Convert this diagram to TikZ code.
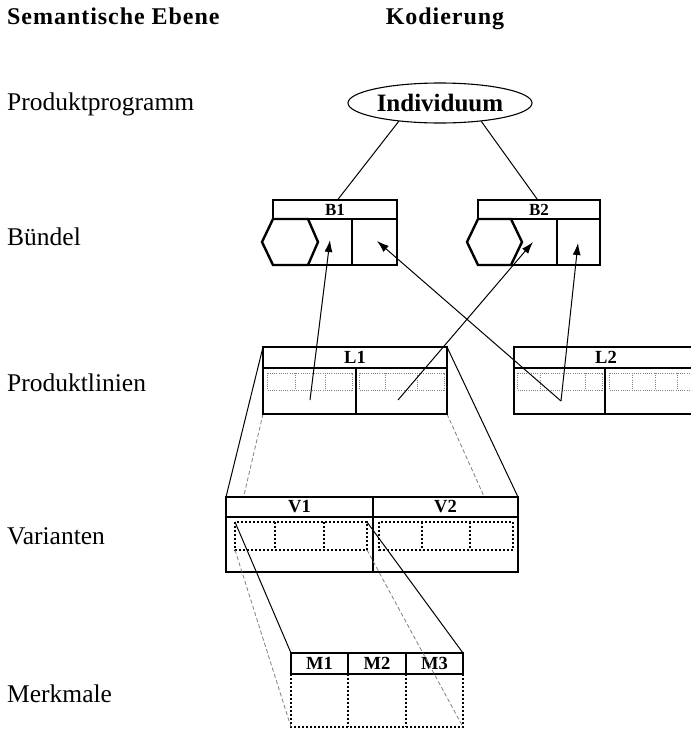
\documentclass[tikz,border=0pt]{standalone}
\usepackage{fontspec}
\setmainfont{Liberation Serif}
\usetikzlibrary{arrows.meta,shapes.geometric,calc}
\begin{document}
\begin{tikzpicture}[x=1pt,y=-1pt,
  thickbox/.style={draw,line width=2.4pt,fill=white,inner sep=0pt,outer sep=0pt,font=\bfseries\fontsize{18.5}{18.5}\selectfont},
  smallbox/.style={thickbox,font=\bfseries\fontsize{17}{17}\selectfont},
  bodyline/.style={line width=2.4pt},
  fineline/.style={line width=1pt},
  greydot/.style={draw=gray,line width=0.8pt,dash pattern=on 1pt off 1.2pt},
  blackdot/.style={draw=black,line width=2pt,dash pattern=on 2pt off 2pt},
  greydash/.style={draw=gray,line width=0.8pt,dash pattern=on 4pt off 2.5pt},
  pointer/.style={line width=1pt,-{Latex[length=12pt,width=8pt]}},
  level/.style={anchor=base west,inner sep=0pt,font=\fontsize{25.5}{25.5}\selectfont},
  title/.style={anchor=base west,inner sep=0pt,font=\bfseries\fontsize{24}{24}\selectfont\addfontfeatures{LetterSpace=4}}
]
\clip (0,0) rectangle (691,729);
\fill[white] (0,0) rectangle (691,729);

% titles and level labels
\node[title] (t1) at (7,24) {Semantische Ebene};
\node[title,anchor=base] (t2) at (445,24) {Kodierung};
\node[level] (s1) at (7,110) {Produktprogramm};
\node[level] (s2) at (7,245) {Bündel};
\node[level] (s3) at (7,391) {Produktlinien};
\node[level] (s4) at (7,544) {Varianten};
\node[level] (s5) at (7,702) {Merkmale};

% dashed lines L1 -> V (behind V)
\coordinate (l1bl) at (263,414);
\coordinate (l1br) at (447,414);
\coordinate (vbl) at (226,572);
\coordinate (vbr) at (518,572);
\draw[greydash] (l1bl) -- (vbl);
\draw[greydash] (l1br) -- (vbr);

% Individuum
\node[draw,ellipse,line width=1.1pt,minimum width=184pt,minimum height=40pt,inner sep=0pt,
      font=\bfseries\fontsize{25}{25}\selectfont] (ind) at (440,103) {Individuum};

% B1
\node[smallbox,minimum width=124pt,minimum height=19pt,anchor=north west] (b1) at (273,200) {B1};
\draw[bodyline,fill=white] (273,219) -- (397,219) -- (397,265) -- (273,265);
\draw[bodyline] (352,219) -- (352,265);
\draw[bodyline,fill=white,line join=miter] (262,242) -- (273,219) -- (308,219) -- (318,242) -- (308,265) -- (273,265) -- cycle;

% B2
\node[smallbox,minimum width=122pt,minimum height=19pt,anchor=north west] (b2) at (478,200) {B2};
\draw[bodyline,fill=white] (478,219) -- (600,219) -- (600,265) -- (478,265);
\draw[bodyline] (557,219) -- (557,265);
\draw[bodyline,fill=white,line join=miter] (467,242) -- (478,219) -- (511,219) -- (522,242) -- (511,265) -- (478,265) -- cycle;

% L1
\node[thickbox,minimum width=184pt,minimum height=21pt,anchor=north west] (l1) at (263,347) {L1};
\draw[bodyline,fill=white] (263,368) rectangle (447,414);
\draw[bodyline] (356,368) -- (356,414);
\draw[greydot] (267,373) rectangle (352,390);
\draw[greydot] (295,373) -- (295,390) (325,373) -- (325,390);
\draw[greydot] (359,373) rectangle (444,390);
\draw[greydot] (385,373) -- (385,390) (417,373) -- (417,390);

% L2
\node[thickbox,minimum width=184pt,minimum height=21pt,anchor=north west] (l2) at (514,347) {L2};
\draw[bodyline,fill=white] (514,368) rectangle (698,414);
\draw[bodyline] (605,368) -- (605,414);
\draw[greydot] (517,373) rectangle (602,390);
\draw[greydot] (540,373) -- (540,390) (585,373) -- (585,390);
\draw[greydot] (609,373) rectangle (694,390);
\draw[greydot] (632,373) -- (632,390) (655,373) -- (655,390) (677,373) -- (677,390);

% V1 / V2
\node[thickbox,minimum width=147pt,minimum height=20pt,anchor=north west] (v1) at (226,497) {V1};
\node[thickbox,minimum width=145pt,minimum height=20pt,anchor=north west] (v2) at (373,497) {V2};
\draw[bodyline,fill=white] (226,517) rectangle (518,572);
\draw[bodyline] (373,517) -- (373,572);
\draw[blackdot] (235,522) rectangle (367,550);
\draw[blackdot] (275,522) -- (275,550) (324,522) -- (324,550);
\draw[blackdot] (379,522) rectangle (513,550);
\draw[blackdot] (422,522) -- (422,550) (470,522) -- (470,550);

% M1 M2 M3
\node[thickbox,minimum width=57pt,minimum height=21pt,anchor=north west] (m1) at (291,653) {M1};
\node[thickbox,minimum width=58pt,minimum height=21pt,anchor=north west] (m2) at (348,653) {M2};
\node[thickbox,minimum width=57pt,minimum height=21pt,anchor=north west] (m3) at (406,653) {M3};
\draw[blackdot] (291,674) rectangle (463,727);
\draw[blackdot] (348,674) -- (348,727) (406,674) -- (406,727);

% connectors Individuum -> bundles
\draw[fineline] (ind.204) -- ($(b1.north west)!0.52!(b1.north east)$);
\draw[fineline] (ind.336) -- ($(b2.north west)!0.49!(b2.north east)$);

% L1 -> V solid
\draw[fineline] (l1.north west) -- (v1.north west);
\draw[fineline] (l1.north east) -- (v2.north east);

% V1 -> M
\coordinate (vdtl) at (235,522);
\coordinate (vdtr) at (367,522);
\coordinate (vdbl) at (235,550);
\coordinate (vdbr) at (367,550);
\coordinate (mbl) at (291,727);
\coordinate (mbr) at (463,727);
\draw[fineline] (vdtl) -- (m1.north west);
\draw[fineline] (vdtr) -- (m3.north east);
\draw[greydash] (vdbl) -- (mbl);
\draw[greydash] (vdbr) -- (mbr);

% arrows product lines -> bundles
\coordinate (l1a) at (310,400);
\coordinate (l1b) at (398,400);
\coordinate (l2a) at (561,401);
\coordinate (b1m) at (330,240);
\coordinate (b1r) at (377,241);
\coordinate (b2m) at (533,242);
\coordinate (b2r) at (578,243);
\draw[pointer] (l1a) -- (b1m);
\draw[pointer] (l1b) -- (b2m);
\draw[pointer] (l2a) -- (b1r);
\draw[pointer] (l2a) -- (b2r);
\end{tikzpicture}
\end{document}
